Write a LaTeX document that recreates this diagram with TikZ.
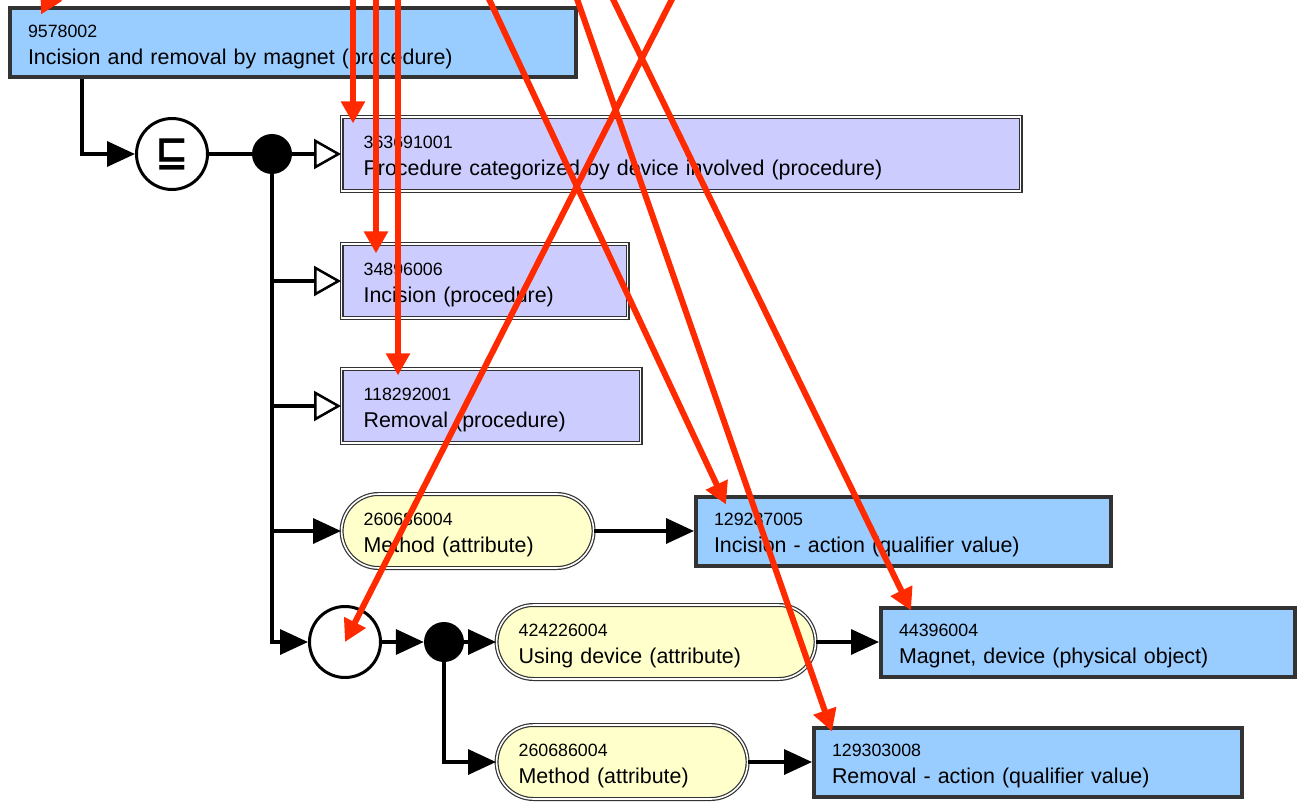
\documentclass[tikz,border=0pt]{standalone}
\usepackage{fontspec}
\setmainfont{Liberation Sans}
\newfontfamily\opfont{DejaVu Sans}
\usepackage{tikz}
\usetikzlibrary{arrows.meta}

\definecolor{defblue}{HTML}{99CCFF}
\definecolor{primpurple}{HTML}{CCCCFF}
\definecolor{attryellow}{HTML}{FFFFCC}
\definecolor{boxgray}{HTML}{333333}
\definecolor{hired}{HTML}{FF2A00}
\newcommand{\idline}[1]{{\rule{0pt}{20pt}\fontsize{17.8}{20}\selectfont #1}\\}

\begin{document}
\begin{tikzpicture}[x=1pt, y=-1pt,
  every node/.style={font=\fontsize{21.4}{26.5}\selectfont, align=left, anchor=west, inner ysep=0pt},
  defbox/.style={draw=boxgray, line width=4pt, fill=defblue, inner xsep=18pt, minimum height=69pt},
  primbox/.style={draw=boxgray, line width=1.2pt, double=white, double distance=1.6pt, fill=primpurple, inner xsep=22pt, minimum height=74pt},
  attrbox/.style={primbox, fill=attryellow, rounded corners=37pt},
  opcircle/.style={circle, draw=black, line width=3pt, fill=white, minimum size=71pt, inner sep=0pt, anchor=center},
  groupdot/.style={circle, fill=black, minimum size=40pt, inner sep=0pt, anchor=center},
  link/.style={line width=3.5pt},
  isa/.style={link, -{Triangle[open, length=27pt, width=30pt, line width=2.5pt]}},
  rel/.style={link, -{Triangle[length=28pt, width=25pt]}},
  hilite/.style={draw=hired, line width=6pt, -{Triangle[length=22pt, width=23pt]}}]
  \useasboundingbox (0,0) rectangle (1300,805);

  \node[defbox, text width=530pt] (A) at (8,43) {\idline{9578002}Incision and removal by magnet (procedure)};
  \node[opcircle, font=\opfont\bfseries\fontsize{40}{40}\selectfont] (sub) at (172,154) {⊑};
  \node[groupdot] (and1) at (272,154) {};
  \node[primbox, text width=635pt] (P1) at (341,154) {\idline{363691001}Procedure categorized by device involved (procedure)};
  \node[primbox, text width=242pt] (P2) at (341,281) {\idline{34896006}Incision (procedure)};
  \node[primbox, text width=255pt] (P3) at (341,406) {\idline{118292001}Removal (procedure)};
  \node[attrbox, text width=208pt] (M1) at (341,531) {\idline{260686004}Method (attribute)};
  \node[defbox, text width=379pt] (V1) at (694,531) {\idline{129287005}Incision - action (qualifier value)};
  \node[opcircle] (grp) at (345,642) {};
  \node[groupdot] (and2) at (444,642) {};
  \node[attrbox, text width=275pt] (U) at (496,642) {\idline{424226004}Using device (attribute)};
  \node[defbox, text width=378pt] (V2) at (879,642) {\idline{44396004}Magnet, device (physical object)};
  \node[attrbox, text width=207pt] (M2) at (496,762) {\idline{260686004}Method (attribute)};
  \node[defbox, text width=392pt] (V3) at (812,762) {\idline{129303008}Removal - action (qualifier value)};

  \draw[rel] ([xshift=74pt]A.south west) |- (sub);
  \draw[link] (sub) -- (and1);
  \draw[isa] (and1) -- (P1);
  \foreach \n in {P2,P3} \draw[isa] (and1) |- (\n);
  \draw[rel] (and1) |- (M1);
  \draw[rel] (and1) |- (grp);
  \draw[rel] (M1) -- (V1);
  \draw[rel] (grp) -- (and2);
  \draw[rel] (and2) -- (U);
  \draw[rel] (and2) |- (M2);
  \draw[rel] (U) -- (V2);
  \draw[rel] (M2) -- (V3);

  \begin{scope}
    \clip (0,0) rectangle (1300,805);
    \foreach \n/\sx/\tx/\ty in {A/75/33/8, P1/353/12/7, P2/376/35/10, P3/398/57/7, V1/466/32/10, V2/589/32/5, V3/560/20/6}{
      \coordinate (src\n) at (\sx,-50);
      \draw[hilite] (src\n) -- ([shift={(\tx,\ty)}]\n.north west);
    }
    \coordinate (srcgrp) at (697,-50);
    \draw[hilite] (srcgrp) -- (grp.center);
  \end{scope}
\end{tikzpicture}
\end{document}
